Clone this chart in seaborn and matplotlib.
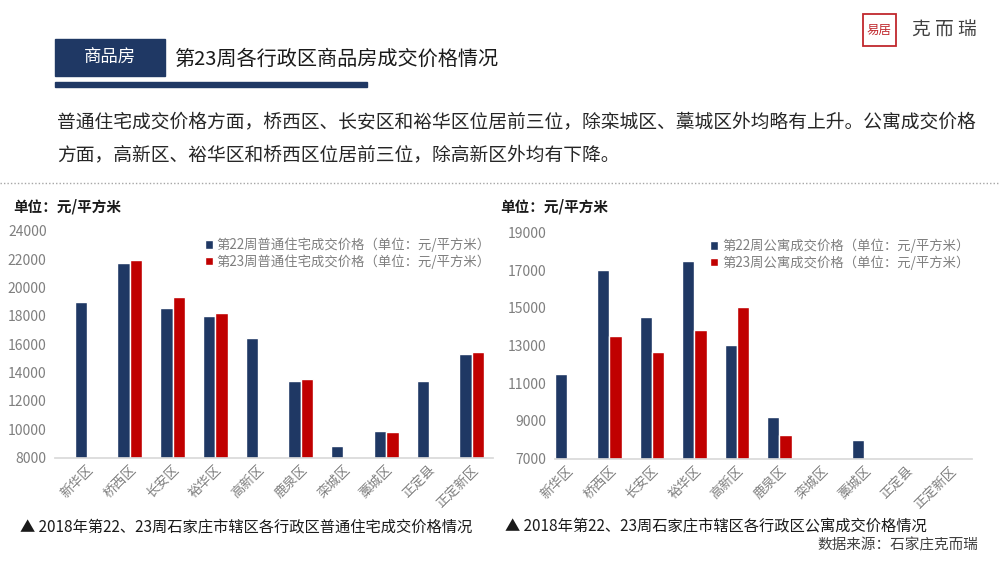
import matplotlib
matplotlib.use("Agg")
import matplotlib.pyplot as plt
from matplotlib.patches import Rectangle
import seaborn as sns
import numpy as np
import pandas as pd

districts = ["新华区", "桥西区", "长安区", "裕华区", "高新区", "鹿泉区", "栾城区", "藁城区", "正定县", "正定新区"]

# 普通住宅 (元/平方米)
house_w22 = [19000, 21700, 18530, 18000, 16440, 13430, 8850, 9880, 13430, 15330]
house_w23 = [np.nan, 21950, 19300, 18200, np.nan, 13570, np.nan, 9790, np.nan, 15470]

# 公寓 (元/平方米)
apt_w22 = [11470, 17000, 14530, 17460, 13010, 9190, np.nan, 7975, np.nan, np.nan]
apt_w23 = [np.nan, 13490, 12650, 13820, 15020, 8240, np.nan, np.nan, np.nan, np.nan]

house_labels = ["第22周普通住宅成交价格（单位：元/平方米）", "第23周普通住宅成交价格（单位：元/平方米）"]
apt_labels = ["第22周公寓成交价格（单位：元/平方米）", "第23周公寓成交价格（单位：元/平方米）"]

house_ticks = [8000, 10000, 12000, 14000, 16000, 18000, 20000, 22000, 24000]
apt_ticks = [7000, 9000, 11000, 13000, 15000, 17000, 19000]

NAVY = "#1F3864"
RED = "#C00000"
GRAY = "#7F7F7F"

sns.set_theme(style="white")
plt.rcParams["font.family"] = ["Noto Sans CJK SC", "DejaVu Sans"]


def long_form(w22, w23, labels):
    return pd.DataFrame({
        "district": districts * 2,
        "series": [labels[0]] * len(districts) + [labels[1]] * len(districts),
        "price": list(w22) + list(w23),
    })


fig = plt.figure(figsize=(10, 5.62), dpi=100)

# page decorations in pixel coordinates
deco = fig.add_axes([0, 0, 1, 1])
deco.set_xlim(0, 1000)
deco.set_ylim(562, 0)
deco.axis("off")

deco.add_patch(Rectangle((55, 39), 110, 37, color=NAVY))
deco.text(110, 58, "商品房", color="white", fontsize=12.5, ha="center", va="center")
deco.text(174, 59, "第23周各行政区商品房成交价格情况", color="#1a1a1a", fontsize=14.5, va="center")
deco.add_patch(Rectangle((55, 82), 312, 4.5, color=NAVY))

deco.text(57, 122, "普通住宅成交价格方面，桥西区、长安区和裕华区位居前三位，除栾城区、藁城区外均略有上升。公寓成交价格",
          fontsize=13.5, color="#262626", va="center")
deco.text(57, 155, "方面，高新区、裕华区和桥西区位居前三位，除高新区外均有下降。",
          fontsize=13.5, color="#262626", va="center")
deco.plot([0, 1000], [183, 183], color="#A6A6A6", lw=1, ls=(0, (1, 1.5)))

# logo
deco.add_patch(Rectangle((863, 14), 33, 32, fill=False, ec="#C0282D", lw=1.3))
deco.text(879.5, 30, "易居", color="#C0282D", fontsize=9, ha="center", va="center")
deco.text(944, 30, "克 而 瑞", color="#404040", fontsize=13.5, ha="center", va="center")

deco.text(13, 207, "单位：元/平方米", fontsize=10.5, fontweight="bold", color="#1a1a1a", va="center")
deco.text(500, 207, "单位：元/平方米", fontsize=10.5, fontweight="bold", color="#1a1a1a", va="center")
deco.text(20, 527, "▲ 2018年第22、23周石家庄市辖区各行政区普通住宅成交价格情况", fontsize=11, color="#1a1a1a", va="center")
deco.text(505, 527, "▲ 2018年第22、23周石家庄市辖区各行政区公寓成交价格情况", fontsize=11, color="#1a1a1a", va="center")
deco.text(978, 545, "数据来源：石家庄克而瑞", fontsize=10.5, color="#404040", ha="right", va="center")


def draw_chart(rect, w22, w23, labels, ticks, xlim):
    ax = fig.add_axes(rect)
    df = long_form(w22, w23, labels)
    sns.barplot(data=df, x="district", y="price", hue="series", hue_order=labels,
                palette=[NAVY, RED], saturation=1, width=0.58, gap=0,
                errorbar=None, ax=ax, zorder=2)
    ax.set_ylim(ticks[0], ticks[-1])
    ax.set_yticks(ticks)
    ax.set_xlim(*xlim)
    ax.set_xlabel("")
    ax.set_ylabel("")
    for s in ["top", "right", "left"]:
        ax.spines[s].set_visible(False)
    ax.spines["bottom"].set_color("#D9D9D9")
    ax.tick_params(axis="y", labelsize=10, colors=GRAY, length=0, pad=6)
    ax.tick_params(axis="x", labelsize=9.5, colors=GRAY, length=0, pad=4)
    plt.setp(ax.get_xticklabels(), rotation=45, ha="right", rotation_mode="anchor")
    ax.patch.set_alpha(0)
    handles, labs = ax.get_legend_handles_labels()
    ax.legend(handles, labs, loc="upper right", bbox_to_anchor=(1.01, 1.0), frameon=False,
              fontsize=9.6, labelcolor=GRAY, handlelength=0.6, handleheight=0.6,
              handletextpad=0.3, labelspacing=0.15, borderaxespad=0.1)
    return ax


draw_chart([0.055, 0.1856, 0.438, 0.4039], house_w22, house_w23, house_labels, house_ticks, (-0.75, 9.5))
draw_chart([0.555, 0.1838, 0.417, 0.4029], apt_w22, apt_w23, apt_labels, apt_ticks, (-0.28, 9.53))

fig.savefig("out.png", dpi=100)
